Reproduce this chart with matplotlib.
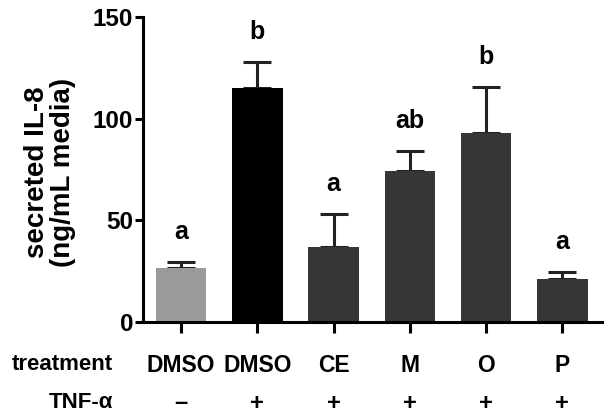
import matplotlib
matplotlib.use("Agg")
import matplotlib.pyplot as plt
import matplotlib.transforms as mtransforms

plt.rcParams['font.family'] = ['Liberation Sans', 'DejaVu Sans']
plt.rcParams['font.weight'] = 'bold'

treatments = ["DMSO", "DMSO", "CE", "M", "O", "P"]
tnf = ["\u2013", "+", "+", "+", "+", "+"]
means = [26.5, 115, 37, 74.5, 93, 21]
errors = [3, 13, 16, 9.5, 22.5, 3.5]
letters = ["a", "b", "a", "ab", "b", "a"]
colors = ["#9a9a9a", "#000000", "#363636", "#363636", "#363636", "#363636"]
yticks = [0, 50, 100, 150]

fig = plt.figure(figsize=(6.12, 4.2), dpi=100)
ax = fig.add_axes([143/612, 1-322/420, (602-143)/612, (322-17)/420])

x = list(range(len(means)))
ax.bar(x, means, width=0.66, color=colors, zorder=2)
ax.errorbar(x, means, yerr=[[0]*len(errors), errors], fmt='none', ecolor='#222222',
            elinewidth=2.2, capsize=10, capthick=2.2, zorder=1)

for xi, m, e, l in zip(x, means, errors, letters):
    ax.text(xi, m + e + 11.3, l, ha='center', va='baseline', fontsize=18, fontweight='bold')

ax.set_xlim(-0.5, 5.52)
ax.set_ylim(0, 150)
ax.set_yticks(yticks)
ax.set_yticklabels([str(v) for v in yticks], fontsize=17.5, fontweight='bold')
ax.set_xticks(x)
ax.set_xticklabels([])
ax.tick_params(axis='y', direction='out', length=6, width=2.2, pad=1)
ax.tick_params(axis='x', direction='out', length=8, width=2.2)
for s in ['top', 'right']:
    ax.spines[s].set_visible(False)
for s in ['left', 'bottom']:
    ax.spines[s].set_linewidth(2.2)

fig.text(50/612, 1-172/420, "secreted IL-8\n(ng/mL media)", rotation=90, ha='center', va='center',
         fontsize=20, fontweight='bold', linespacing=1.0, multialignment='center')

trans = mtransforms.blended_transform_factory(ax.transData, fig.transFigure)
for xi, t, p in zip(x, treatments, tnf):
    ax.text(xi, 1-365/420, t, transform=trans, ha='center', va='center', fontsize=16.5, fontweight='bold')
    ax.text(xi, 1-403/420, p, transform=trans, ha='center', va='center', fontsize=17, fontweight='bold')
fig.text(113/612, 1-365/420, "treatment", ha='right', va='center', fontsize=16, fontweight='bold')
fig.text(113/612, 1-403/420, "TNF-\u03b1", ha='right', va='center', fontsize=16, fontweight='bold')

fig.savefig("out.png", dpi=100)
